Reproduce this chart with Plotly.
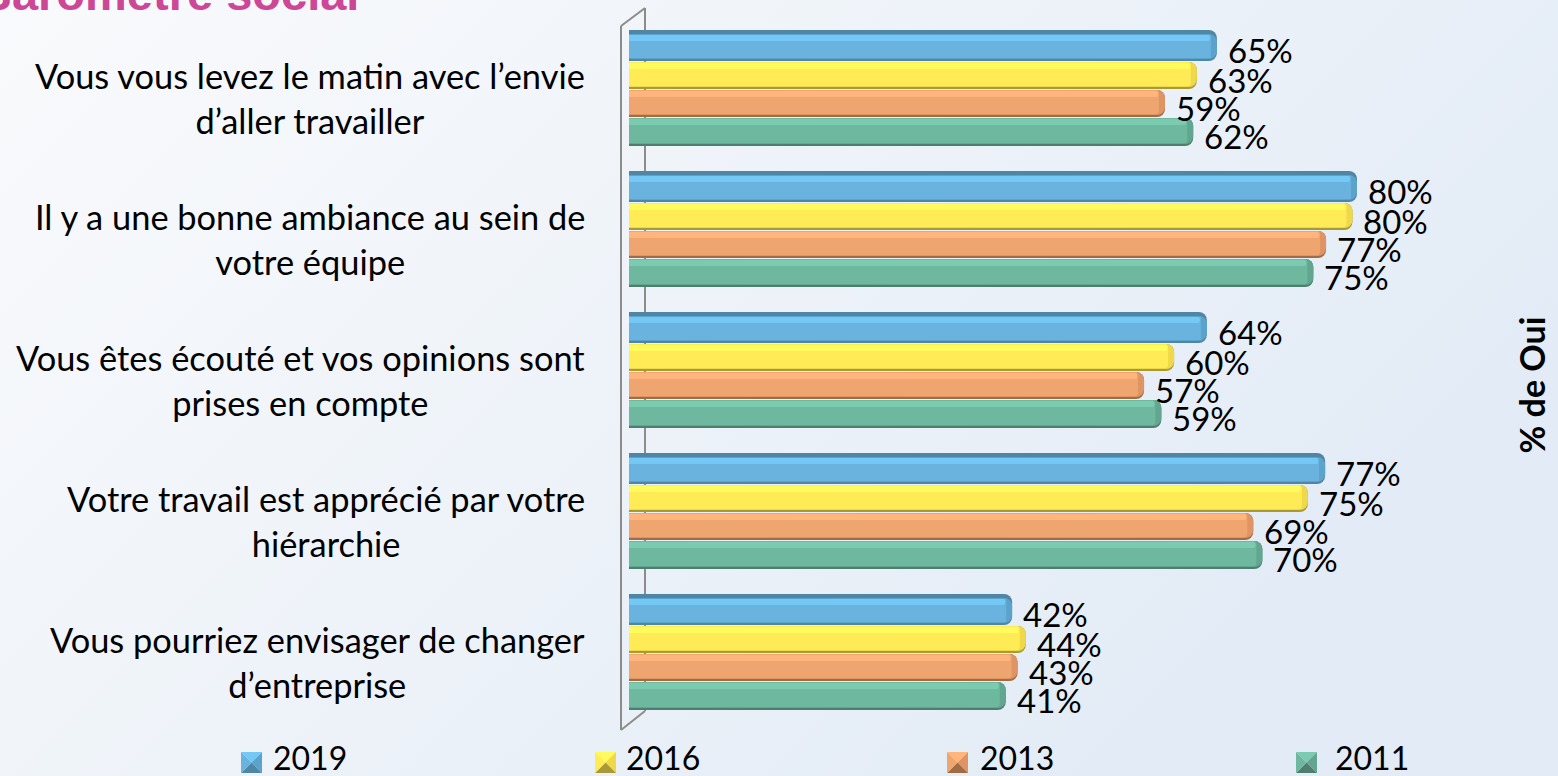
import plotly.graph_objects as go
import urllib.parse

W, H = 1558, 776
categories = [
    "Vous vous levez le matin avec l’envie<br>d’aller travailler",
    "Il y a une bonne ambiance au sein de<br>votre équipe",
    "Vous êtes écouté et vos opinions sont<br>prises en compte",
    "Votre travail est apprécié par votre<br>hiérarchie",
    "Vous pourriez envisager de changer<br>d’entreprise",
]
years = ["2019", "2016", "2013", "2011"]
# bar lengths as measured on the picture
v2019 = [64.6, 80.0, 63.5, 76.5, 42.1]
v2016 = [62.4, 79.5, 59.9, 74.6, 43.6]
v2013 = [58.9, 76.6, 56.6, 68.6, 42.7]
v2011 = [62.0, 75.2, 58.5, 69.6, 41.4]
# printed labels
l2019 = ["65%", "80%", "64%", "77%", "42%"]
l2016 = ["63%", "80%", "60%", "75%", "44%"]
l2013 = ["59%", "77%", "57%", "69%", "43%"]
l2011 = ["62%", "75%", "59%", "70%", "41%"]

values = [v2019, v2016, v2013, v2011]
labels = [l2019, l2016, l2013, l2011]
main = ["#69B3DE", "#FFEB55", "#EEA570", "#6FB8A0"]
side = ["#5CA3CC", "#EFD94A", "#DE9563", "#63A68F"]
light = ["#74C8F6", "#FFFB5C", "#FFB57C", "#7ACBB0"]
dark = ["#4F86A5", "#A89A38", "#A06C46", "#4E7F6E"]
# slot top / bottom relative to the group centre, in px
slots = [(-58, -27), (-26, 1), (2, 29), (30, 58)]
legend_swatch_x = [241, 595, 947, 1296]
legend_text_x = [271, 624, 978, 1333]

PX_X = 9.1      # px per percent
X0 = 629
PX_Y = 141      # px per category
Y0 = 88
FONT = "Lato"

fig = go.Figure()


def layer(i, top, bottom, inset, color, radius=6, hover=False):
    fig.add_trace(go.Bar(
        y=categories, x=[v - inset / PX_X for v in values[i]], orientation="h",
        offset=top / PX_Y, width=(bottom - top) / PX_Y,
        marker=dict(color=color, line=dict(width=0), cornerradius=radius),
        name=years[i], showlegend=False,
        hoverinfo="x+name" if hover else "skip",
    ))


for i in range(4):
    top, bot = slots[i]
    layer(i, top, bot, 0, dark[i], radius=8)
    t2 = top + (4 if i == 0 else 0)
    layer(i, t2, bot - 2, 0, side[i], radius=8)
    layer(i, t2 + (1 if i == 0 else 0), bot - 3, 6, main[i], radius=3, hover=True)
    layer(i, t2 + 1, t2 + 7, 7, light[i], radius=2)

annotations = []
for i in range(4):
    for c, v, t in zip(categories, values[i], labels[i]):
        top, bot = slots[i]
        annotations.append(dict(
            x=v, y=c, xref="x", yref="y", text=t, showarrow=False, xanchor="left",
            xshift=9, yshift=-((top + bot) / 2 + 4), yanchor="middle",
            font=dict(family=FONT, size=33, color="#000000"),
        ))
for c in categories:
    annotations.append(dict(
        x=0, y=c, xref="x", yref="y", text=c, showarrow=False, xanchor="right", align="center",
        xshift=-42, yshift=-10, font=dict(family=FONT, size=34.4, color="#000000"),
    ))
annotations.append(dict(
    x=-24 / W, y=1 - 22 / H, xref="paper", yref="paper", text="<b>Baromètre social</b>", showarrow=False,
    xanchor="left", yanchor="bottom", font=dict(family="Liberation Sans", size=47, color="#CC4796"),
))
annotations.append(dict(
    x=1553 / W, y=1 - 385 / H, xref="paper", yref="paper", text="<b>% de Oui</b>", showarrow=False,
    textangle=-90, font=dict(family=FONT, size=34, color="#000000"),
))

px = lambda x: x / W
py = lambda y: 1 - y / H
for tx, t in zip(legend_text_x, years):
    annotations.append(dict(
        x=px(tx), y=py(757), xref="paper", yref="paper", text=t, showarrow=False, xanchor="left",
        yanchor="middle", font=dict(family=FONT, size=32, color="#000000"),
    ))

wall = dict(color="#8C8C8C", width=2)
shapes = [
    dict(type="line", xref="paper", yref="paper", x0=px(a), y0=py(b), x1=px(c), y1=py(d), line=wall, layer="below")
    for a, b, c, d in [(621, 26, 621, 730), (621, 26, 645, 8), (645, 8, 645, 711), (621, 730, 645, 711)]
]


def tri(pts, color):
    path = "M" + " L".join(f"{px(x):.5f},{py(y):.5f}" for x, y in pts) + " Z"
    return dict(type="path", xref="paper", yref="paper", path=path, fillcolor=color, line=dict(width=0))


for i, sx in enumerate(legend_swatch_x):
    S = 21
    sy = 752
    cx, cy = sx + S / 2, sy + S / 2
    nw, ne, se, sw = (sx, sy), (sx + S, sy), (sx + S, sy + S), (sx, sy + S)
    c = (cx, cy)
    shapes += [tri([nw, ne, c], light[i]), tri([ne, se, c], side[i]),
               tri([se, sw, c], dark[i]), tri([sw, nw, c], main[i])]

svg = (f'<svg xmlns="http://www.w3.org/2000/svg" width="{W}" height="{H}" preserveAspectRatio="none">'
       '<defs><linearGradient id="g" x1="0" y1="0" x2="1" y2="0.5">'
       '<stop offset="0" stop-color="#F9FAFC"/><stop offset="0.5" stop-color="#EEF3F9"/>'
       '<stop offset="1" stop-color="#E2EBF6"/></linearGradient></defs>'
       f'<rect width="{W}" height="{H}" fill="url(#g)"/></svg>')
bg = "data:image/svg+xml," + urllib.parse.quote(svg)

fig.update_layout(
    width=W, height=H, margin=dict(l=0, r=0, t=0, b=0), barmode="overlay",
    paper_bgcolor="#EEF3F9", plot_bgcolor="rgba(0,0,0,0)",
    xaxis=dict(range=[-X0 / PX_X, (W - X0) / PX_X], visible=False, fixedrange=True),
    yaxis=dict(type="category", range=[(H - Y0) / PX_Y, -Y0 / PX_Y], visible=False, fixedrange=True),
    shapes=shapes, annotations=annotations,
    images=[dict(source=bg, xref="paper", yref="paper", x=0, y=1, sizex=1, sizey=1,
                 xanchor="left", yanchor="top", sizing="stretch", layer="below")],
    showlegend=False,
)
fig.write_html("out.html", config={"displayModeBar": False},
               post_script="document.body.style.margin='0';document.body.style.overflow='hidden';")
